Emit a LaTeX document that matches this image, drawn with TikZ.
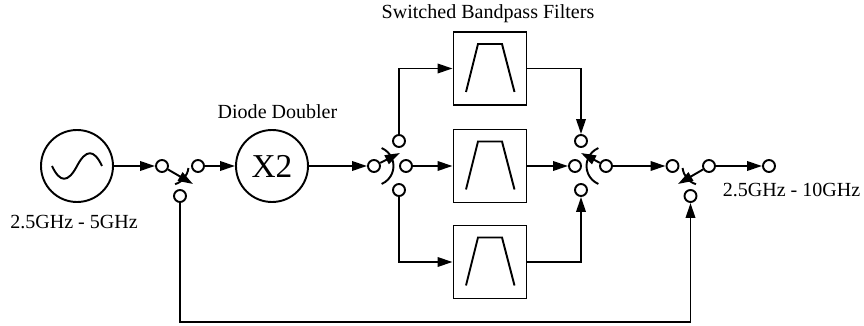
\documentclass[tikz,border=0pt]{standalone}
\usepackage{fontspec}
\setmainfont{Liberation Serif}
\usetikzlibrary{arrows.meta}
\tikzset{
	wire/.style={line width=1.1pt},
	feed/.style={wire,-{Triangle[length=3mm,width=1.9mm]}},
	term/.style={draw,circle,wire,inner sep=0pt,minimum size=2.4mm},
	blockc/.style={draw,circle,line width=1.1pt,inner sep=0pt,minimum size=14.4mm},
	filt/.style={draw,line width=1.1pt,inner sep=0pt,minimum size=14.6mm},
	lbl/.style={font=\fontsize{11.4}{14}\selectfont,inner sep=0pt}
}
\begin{document}
\begin{tikzpicture}
	\useasboundingbox (0,0) rectangle (17.28,6.52);
	% blocks
	\node[blockc] (src) at (1.54,3.2) {};
	\node[blockc,font=\fontsize{19}{21}\selectfont] (dbl) at (5.44,3.2) {X2};
	\node[filt] (fTop) at (9.8,5.15) {};
	\node[filt] (fMid) at (9.8,3.2) {};
	\node[filt] (fBot) at (9.8,1.28) {};
	\draw[wire] (1.04,3.2) .. controls (1.2,2.86) and (1.36,2.86) .. (1.54,3.2) .. controls (1.72,3.54) and (1.88,3.54) .. (2.04,3.2);
	\foreach \f in {fTop,fMid,fBot}
	  \draw[wire,shift={(\f.center)}] (-.48,-.47) -- (-.24,.49) -- (.24,.49) -- (.49,-.47);
	% first switch
	\node[term] (a1) at (3.24,3.2) {};
	\node[term] (a2) at (3.96,3.2) {};
	\node[term] (a3) at (3.6,2.6) {};
	\coordinate (aTip) at (3.86,2.84);
	\draw[feed] (a1) -- (aTip);
	\draw[wire] ([shift={(-73:.38)}]3.39,3.2) arc[start angle=-73,end angle=-6,radius=.38];
	% second switch
	\node[term] (b1) at (7.48,3.2) {};
	\node[term] (b2) at (8.12,3.2) {};
	\node[term] (b3) at (7.98,3.7) {};
	\node[term] (b4) at (7.98,2.72) {};
	\coordinate (bTip) at (8,3.46);
	\draw[feed] (b1) -- (bTip);
	\draw[wire] ([shift={(-67:.39)}]b1.center) arc[start angle=-67,end angle=67,radius=.39];
	% third switch
	\node[term] (c1) at (11.5,3.2) {};
	\node[term] (c2) at (12.12,3.2) {};
	\node[term] (c3) at (11.62,3.7) {};
	\node[term] (c4) at (11.62,2.72) {};
	\coordinate (cTip) at (11.62,3.46);
	\draw[feed] (c2) -- (cTip);
	\draw[wire] ([shift={(113:.39)}]c2.center) arc[start angle=113,end angle=247,radius=.39];
	% fourth switch
	\node[term] (d1) at (13.45,3.2) {};
	\node[term] (d2) at (14.18,3.2) {};
	\node[term] (d3) at (13.81,2.6) {};
	\node[term] (out) at (15.38,3.2) {};
	\coordinate (dTip) at (13.56,2.84);
	\draw[feed] (d2) -- (dTip);
	\draw[wire] ([shift={(186:.38)}]14.03,3.2) arc[start angle=186,end angle=253,radius=.38];
	% connections
	\draw[feed] (src) -- (a1);
	\draw[feed] (a2) -- (dbl);
	\draw[feed] (dbl) -- (b1);
	\draw[feed] (b2) -- (fMid);
	\draw[feed] (b3) |- (fTop);
	\draw[feed] (b4) |- (fBot);
	\draw[feed] (fMid) -- (c1);
	\draw[feed] (fTop) -| (c3);
	\draw[feed] (fBot) -| (c4);
	\draw[feed] (c2) -- (d1);
	\draw[feed] (d2) -- (out);
	\coordinate (back) at (8,.08);
	\draw[feed] (a3) |- (back) -| (d3);
	% labels
	\node[lbl] (lSrc) at (1.48,2.08) {2.5GHz - 5GHz};
	\node[lbl] (lDbl) at (5.55,4.28) {Diode Doubler};
	\node[lbl] (lFlt) at (9.76,6.24) {Switched Bandpass Filters};
	\node[lbl] (lOut) at (15.83,2.72) {2.5GHz - 10GHz};
\end{tikzpicture}
\end{document}
